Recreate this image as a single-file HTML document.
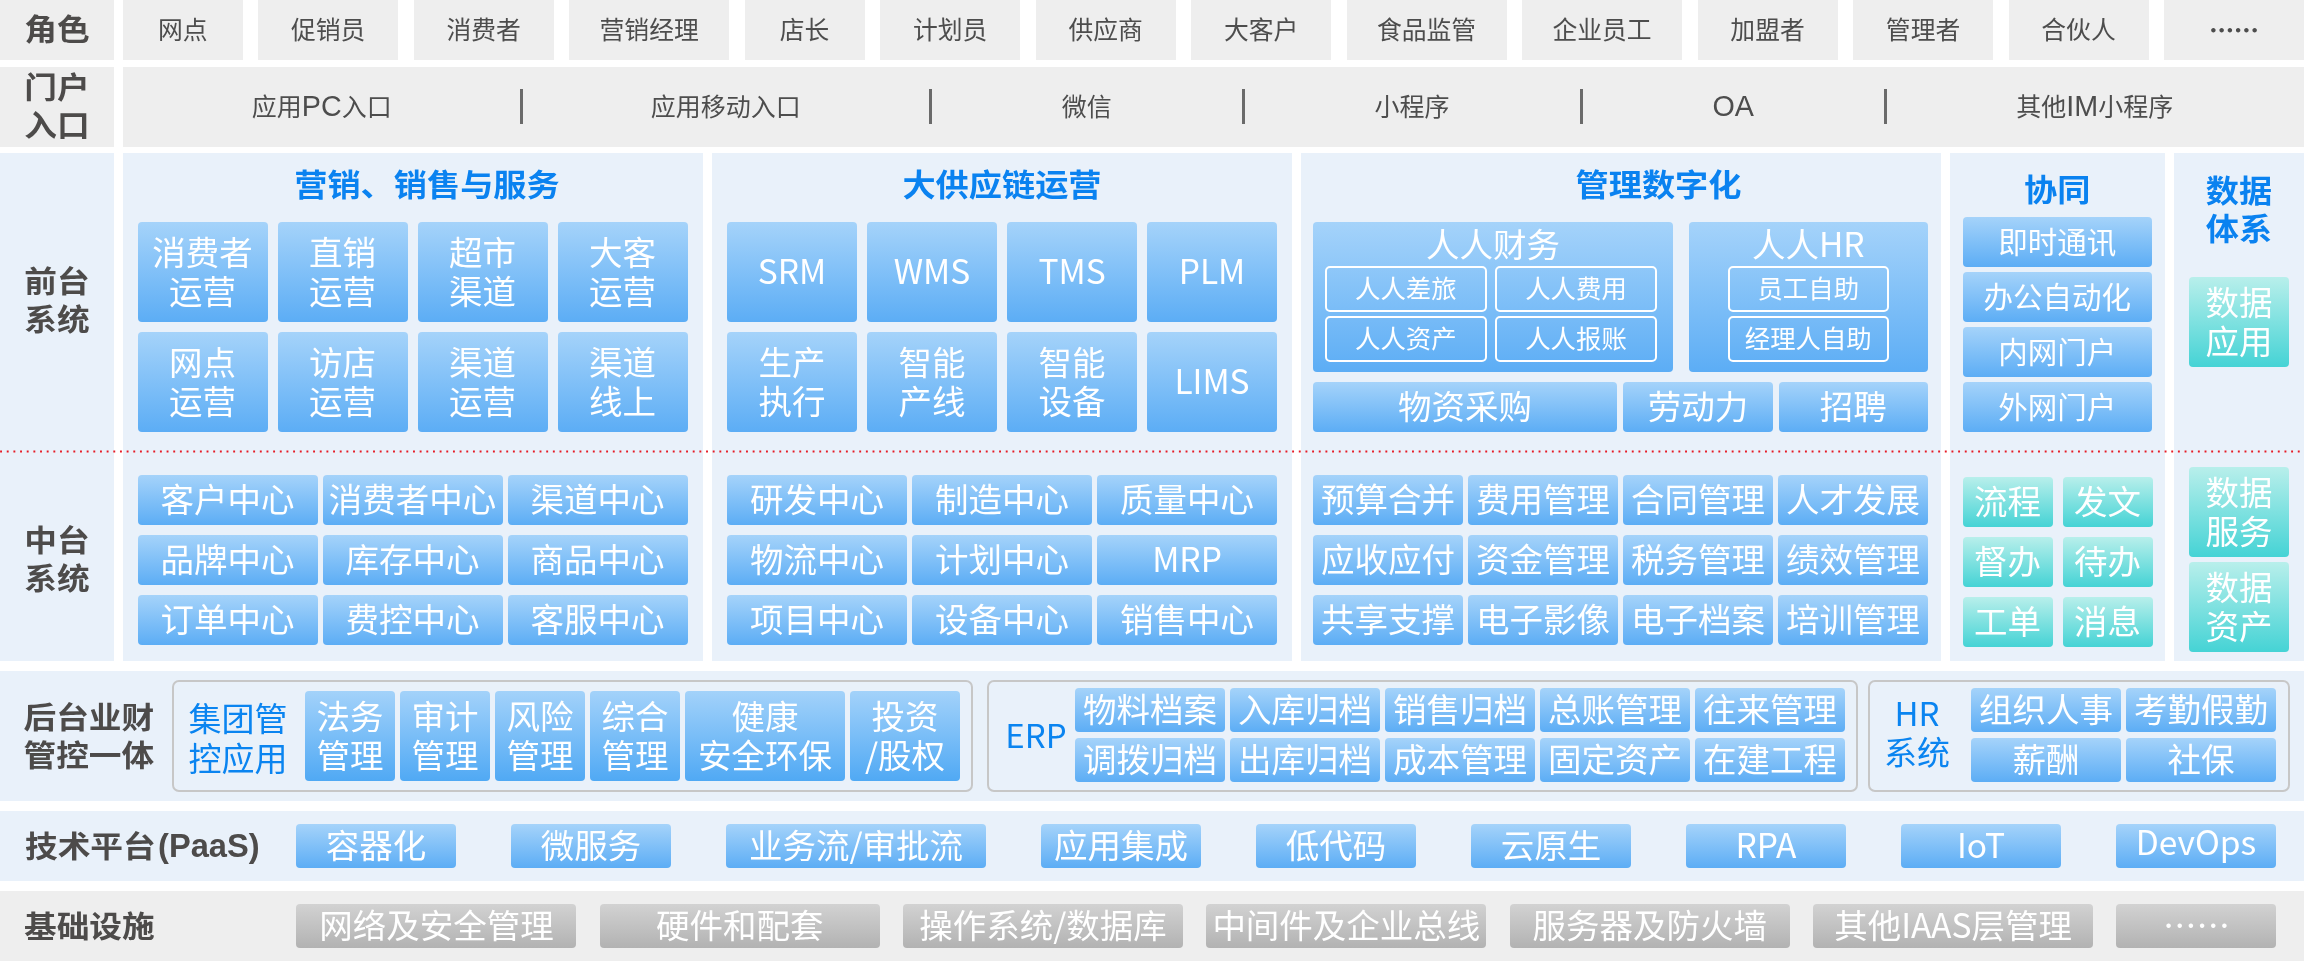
<!DOCTYPE html>
<html lang="zh-CN"><head><meta charset="utf-8"><title>架构</title><style>
*{margin:0;padding:0;box-sizing:border-box}
html,body{width:2304px;height:961px;overflow:hidden;background:#fff}
body{position:relative;will-change:transform;font-family:"Liberation Sans","Noto Sans CJK SC",sans-serif;}
.a{position:absolute}
.c{position:absolute;display:flex;align-items:center;justify-content:center;text-align:center;white-space:nowrap}
.g{background:#eeeeee}
.lb{background:#e9f1fa}
.lab{color:#4d4b4a;font-weight:700;font-size:32.7px;line-height:42.2px}
.lab>span,.tt>span{display:inline-block;transform:scaleY(0.92)}
.pa{display:inline-block;font-size:35.5px;line-height:30px;transform:scaleX(0.92);transform-origin:0 50%;margin-left:2px}
.labl{justify-content:flex-start;text-align:left}
.role{color:#4d4d4d;font-size:24.8px;line-height:30px}
.pt{font-size:25px;padding-top:0 !important;padding-bottom:0.8px}
.en{font-size:28.7px;line-height:30px}
.role{padding-top:1.5px}
.sep{position:absolute;width:3px;background:#6a6a6a;top:89px;height:35px}
.tt{color:#0a82f0;font-weight:700;font-size:33.2px;line-height:41.7px}
.b{color:#fff;font-weight:400;font-size:33.5px;line-height:38.8px;border-radius:4px;background:linear-gradient(180deg,#a5d3fa 0%,#5cadf5 100%);}
.t{color:#fff;font-weight:400;font-size:33.5px;line-height:38.8px;border-radius:4px;background:linear-gradient(180deg,#b8efeb 0%,#45d3d5 100%);}
.gy{color:#fff;font-weight:400;font-size:33.5px;line-height:38.8px;border-radius:4px;background:linear-gradient(180deg,#d2d2d2 0%,#b2b2b2 100%);}
.o{color:#fff;font-weight:400;font-size:25.4px;line-height:30px;border-radius:5px;border:2px solid #fff;}
.b,.t,.gy,.o{padding-bottom:4px}
.b,.t,.gy,.o,.bt{font-family:"Noto Sans CJK SC","Liberation Sans",sans-serif}
.fr{position:absolute;border:2px solid #c7c7c7;border-radius:7px}
.bt{color:#0a84f0;font-weight:400;font-size:33px;line-height:40px}
.dot{position:absolute;left:0;top:449.9px;width:2304px;height:3px}
</style></head><body>
<div class="c g lab" style="left:0px;top:0px;width:114px;height:60px;"><span>角色</span></div>
<div class="c g role" style="left:122.7px;top:0px;width:120px;height:60px;"><span>网点</span></div>
<div class="c g role" style="left:258.185px;top:0px;width:140px;height:60px;"><span>促销员</span></div>
<div class="c g role" style="left:413.67px;top:0px;width:140px;height:60px;"><span>消费者</span></div>
<div class="c g role" style="left:569.155px;top:0px;width:160px;height:60px;"><span>营销经理</span></div>
<div class="c g role" style="left:744.64px;top:0px;width:120px;height:60px;"><span>店长</span></div>
<div class="c g role" style="left:880.125px;top:0px;width:140px;height:60px;"><span>计划员</span></div>
<div class="c g role" style="left:1035.61px;top:0px;width:140px;height:60px;"><span>供应商</span></div>
<div class="c g role" style="left:1191.1px;top:0px;width:140px;height:60px;"><span>大客户</span></div>
<div class="c g role" style="left:1346.58px;top:0px;width:160px;height:60px;"><span>食品监管</span></div>
<div class="c g role" style="left:1522.07px;top:0px;width:160px;height:60px;"><span>企业员工</span></div>
<div class="c g role" style="left:1697.55px;top:0px;width:140px;height:60px;"><span>加盟者</span></div>
<div class="c g role" style="left:1853.04px;top:0px;width:140px;height:60px;"><span>管理者</span></div>
<div class="c g role" style="left:2008.52px;top:0px;width:140px;height:60px;"><span>合伙人</span></div>
<div class="c g role" style="left:2164.01px;top:0px;width:140px;height:60px;font-family:'Noto Sans CJK SC',sans-serif;font-weight:900;padding-bottom:4px;"><span>……</span></div>
<div class="c g lab" style="left:0px;top:67px;width:114px;height:80px;"><span>门户<br>入口</span></div>
<div class="a g" style="left:122.5px;top:67px;width:2181.5px;height:80px"></div>
<div class="c role pt" style="left:122.5px;top:67px;width:398.5px;height:80px;"><span>应用<span class="en">PC</span>入口</span></div>
<div class="c role pt" style="left:521px;top:67px;width:409.5px;height:80px;"><span>应用移动入口</span></div>
<div class="c role pt" style="left:930.5px;top:67px;width:312.5px;height:80px;"><span>微信</span></div>
<div class="c role pt" style="left:1243px;top:67px;width:338px;height:80px;"><span>小程序</span></div>
<div class="c role pt" style="left:1581px;top:67px;width:304.5px;height:80px;"><span><span class="en">OA</span></span></div>
<div class="c role pt" style="left:1885.5px;top:67px;width:418.5px;height:80px;"><span>其他<span class="en">IM</span>小程序</span></div>
<div class="sep" style="left:519.5px"></div>
<div class="sep" style="left:929px"></div>
<div class="sep" style="left:1241.5px"></div>
<div class="sep" style="left:1579.5px"></div>
<div class="sep" style="left:1884px"></div>
<div class="a lb" style="left:0;top:153px;width:114px;height:508px"></div>
<div class="c lab" style="left:0px;top:251px;width:114px;height:100px;"><span>前台<br>系统</span></div>
<div class="c lab" style="left:0px;top:510px;width:114px;height:100px;"><span>中台<br>系统</span></div>
<div class="a lb" style="left:123px;top:153px;width:579.5px;height:508px"></div>
<div class="a lb" style="left:712px;top:153px;width:580px;height:508px"></div>
<div class="a lb" style="left:1301px;top:153px;width:640px;height:508px"></div>
<div class="a lb" style="left:1950px;top:153px;width:214.5px;height:508px"></div>
<div class="a lb" style="left:2174px;top:153px;width:130px;height:508px"></div>
<div class="c tt" style="left:295px;top:167px;width:264px;height:38px;"><span>营销、销售与服务</span></div>
<div class="c tt" style="left:712px;top:167px;width:580px;height:38px;"><span>大供应链运营</span></div>
<div class="c tt" style="left:1376px;top:167px;width:565px;height:38px;"><span>管理数字化</span></div>
<div class="c tt" style="left:1950px;top:172px;width:214.5px;height:38px;"><span>协同</span></div>
<div class="c tt" style="left:2174px;top:172.5px;width:130px;height:76px;"><span>数据<br>体系</span></div>
<div class="c b" style="left:137.5px;top:222px;width:130px;height:100px;padding-top:2px;"><span>消费者<br>运营</span></div>
<div class="c b" style="left:277.5px;top:222px;width:130px;height:100px;padding-top:2px;"><span>直销<br>运营</span></div>
<div class="c b" style="left:417.5px;top:222px;width:130px;height:100px;padding-top:2px;"><span>超市<br>渠道</span></div>
<div class="c b" style="left:557.5px;top:222px;width:130px;height:100px;padding-top:2px;"><span>大客<br>运营</span></div>
<div class="c b" style="left:137.5px;top:332px;width:130px;height:100px;padding-top:2px;"><span>网点<br>运营</span></div>
<div class="c b" style="left:277.5px;top:332px;width:130px;height:100px;padding-top:2px;"><span>访店<br>运营</span></div>
<div class="c b" style="left:417.5px;top:332px;width:130px;height:100px;padding-top:2px;"><span>渠道<br>运营</span></div>
<div class="c b" style="left:557.5px;top:332px;width:130px;height:100px;padding-top:2px;"><span>渠道<br>线上</span></div>
<div class="c b" style="left:727px;top:222px;width:130px;height:100px;"><span>SRM</span></div>
<div class="c b" style="left:867px;top:222px;width:130px;height:100px;"><span>WMS</span></div>
<div class="c b" style="left:1007px;top:222px;width:130px;height:100px;"><span>TMS</span></div>
<div class="c b" style="left:1147px;top:222px;width:130px;height:100px;"><span>PLM</span></div>
<div class="c b" style="left:727px;top:332px;width:130px;height:100px;padding-top:2px;"><span>生产<br>执行</span></div>
<div class="c b" style="left:867px;top:332px;width:130px;height:100px;padding-top:2px;"><span>智能<br>产线</span></div>
<div class="c b" style="left:1007px;top:332px;width:130px;height:100px;padding-top:2px;"><span>智能<br>设备</span></div>
<div class="c b" style="left:1147px;top:332px;width:130px;height:100px;"><span>LIMS</span></div>
<div class="a b" style="left:1313px;top:222px;width:360px;height:150px"></div>
<div class="a b" style="left:1688.5px;top:222px;width:239.5px;height:150px"></div>
<div class="c b" style="left:1313px;top:226px;width:360px;height:38px;background:none"><span>人人财务</span></div>
<div class="c b" style="left:1688.5px;top:226px;width:239.5px;height:38px;background:none"><span>人人HR</span></div>
<div class="c o" style="left:1324.7px;top:266px;width:162.3px;height:46px;"><span>人人差旅</span></div>
<div class="c o" style="left:1495px;top:266px;width:162px;height:46px;"><span>人人费用</span></div>
<div class="c o" style="left:1324.7px;top:316px;width:162.3px;height:46px;"><span>人人资产</span></div>
<div class="c o" style="left:1495px;top:316px;width:162px;height:46px;"><span>人人报账</span></div>
<div class="c o" style="left:1727.5px;top:266px;width:161.5px;height:46px;"><span>员工自助</span></div>
<div class="c o" style="left:1727.5px;top:316px;width:161.5px;height:46px;"><span>经理人自助</span></div>
<div class="c b" style="left:1313px;top:382px;width:304px;height:50px;"><span>物资采购</span></div>
<div class="c b" style="left:1623px;top:382px;width:150px;height:50px;"><span>劳动力</span></div>
<div class="c b" style="left:1778.5px;top:382px;width:149.5px;height:50px;"><span>招聘</span></div>
<div class="c b" style="left:1962.5px;top:217px;width:189.5px;height:50px;font-size:29.5px"><span>即时通讯</span></div>
<div class="c b" style="left:1962.5px;top:272px;width:189.5px;height:50px;font-size:29.5px"><span>办公自动化</span></div>
<div class="c b" style="left:1962.5px;top:327px;width:189.5px;height:50px;font-size:29.5px"><span>内网门户</span></div>
<div class="c b" style="left:1962.5px;top:382px;width:189.5px;height:50px;font-size:29.5px"><span>外网门户</span></div>
<div class="c t" style="left:2189px;top:277px;width:100px;height:90px;padding-top:2px;"><span>数据<br>应用</span></div>
<div class="c t" style="left:2189px;top:467px;width:100px;height:90px;padding-top:2px;"><span>数据<br>服务</span></div>
<div class="c t" style="left:2189px;top:562.3px;width:100px;height:89.7px;padding-top:2px;"><span>数据<br>资产</span></div>
<div class="c b" style="left:137.5px;top:475px;width:180px;height:50px;"><span>客户中心</span></div>
<div class="c b" style="left:727px;top:475px;width:180px;height:50px;"><span>研发中心</span></div>
<div class="c b" style="left:322.5px;top:475px;width:180px;height:50px;"><span>消费者中心</span></div>
<div class="c b" style="left:912px;top:475px;width:180px;height:50px;"><span>制造中心</span></div>
<div class="c b" style="left:507.5px;top:475px;width:180px;height:50px;"><span>渠道中心</span></div>
<div class="c b" style="left:1097px;top:475px;width:180px;height:50px;"><span>质量中心</span></div>
<div class="c b" style="left:1313px;top:475px;width:150px;height:50px;"><span>预算合并</span></div>
<div class="c b" style="left:1468px;top:475px;width:150px;height:50px;"><span>费用管理</span></div>
<div class="c b" style="left:1623px;top:475px;width:150px;height:50px;"><span>合同管理</span></div>
<div class="c b" style="left:1778px;top:475px;width:150px;height:50px;"><span>人才发展</span></div>
<div class="c b" style="left:137.5px;top:535px;width:180px;height:50px;"><span>品牌中心</span></div>
<div class="c b" style="left:727px;top:535px;width:180px;height:50px;"><span>物流中心</span></div>
<div class="c b" style="left:322.5px;top:535px;width:180px;height:50px;"><span>库存中心</span></div>
<div class="c b" style="left:912px;top:535px;width:180px;height:50px;"><span>计划中心</span></div>
<div class="c b" style="left:507.5px;top:535px;width:180px;height:50px;"><span>商品中心</span></div>
<div class="c b" style="left:1097px;top:535px;width:180px;height:50px;"><span>MRP</span></div>
<div class="c b" style="left:1313px;top:535px;width:150px;height:50px;"><span>应收应付</span></div>
<div class="c b" style="left:1468px;top:535px;width:150px;height:50px;"><span>资金管理</span></div>
<div class="c b" style="left:1623px;top:535px;width:150px;height:50px;"><span>税务管理</span></div>
<div class="c b" style="left:1778px;top:535px;width:150px;height:50px;"><span>绩效管理</span></div>
<div class="c b" style="left:137.5px;top:595px;width:180px;height:50px;"><span>订单中心</span></div>
<div class="c b" style="left:727px;top:595px;width:180px;height:50px;"><span>项目中心</span></div>
<div class="c b" style="left:322.5px;top:595px;width:180px;height:50px;"><span>费控中心</span></div>
<div class="c b" style="left:912px;top:595px;width:180px;height:50px;"><span>设备中心</span></div>
<div class="c b" style="left:507.5px;top:595px;width:180px;height:50px;"><span>客服中心</span></div>
<div class="c b" style="left:1097px;top:595px;width:180px;height:50px;"><span>销售中心</span></div>
<div class="c b" style="left:1313px;top:595px;width:150px;height:50px;"><span>共享支撑</span></div>
<div class="c b" style="left:1468px;top:595px;width:150px;height:50px;"><span>电子影像</span></div>
<div class="c b" style="left:1623px;top:595px;width:150px;height:50px;"><span>电子档案</span></div>
<div class="c b" style="left:1778px;top:595px;width:150px;height:50px;"><span>培训管理</span></div>
<div class="c t" style="left:1962.5px;top:477px;width:90px;height:50px;"><span>流程</span></div>
<div class="c t" style="left:2062.5px;top:477px;width:90px;height:50px;"><span>发文</span></div>
<div class="c t" style="left:1962.5px;top:537px;width:90px;height:50px;"><span>督办</span></div>
<div class="c t" style="left:2062.5px;top:537px;width:90px;height:50px;"><span>待办</span></div>
<div class="c t" style="left:1962.5px;top:597px;width:90px;height:50px;"><span>工单</span></div>
<div class="c t" style="left:2062.5px;top:597px;width:90px;height:50px;"><span>消息</span></div>
<svg class="dot" viewBox="0 0 2304 3"><line x1="0.1" y1="1.5" x2="2304" y2="1.5" stroke="#e61a24" stroke-width="2" stroke-dasharray="1.9 4.76" stroke-linecap="butt"/></svg>
<div class="a lb" style="left:0;top:671px;width:2304px;height:130px"></div>
<div class="c lab labl" style="left:23.5px;top:698px;width:146.5px;height:78px;"><span>后台业财<br>管控一体</span></div>
<div class="fr" style="left:172px;top:680px;width:801px;height:111.5px"></div>
<div class="fr" style="left:987px;top:680px;width:871px;height:111.5px"></div>
<div class="fr" style="left:1868px;top:680px;width:421.5px;height:111.5px"></div>
<div class="c bt" style="left:180px;top:697.2px;width:116px;height:80px;"><span>集团管<br>控应用</span></div>
<div class="c b" style="left:305px;top:691px;width:90px;height:90px;background:linear-gradient(180deg,#a3d2fa 0%,#50a9f4 100%);padding-top:2px;"><span>法务<br>管理</span></div>
<div class="c b" style="left:400px;top:691px;width:90px;height:90px;background:linear-gradient(180deg,#a3d2fa 0%,#50a9f4 100%);padding-top:2px;"><span>审计<br>管理</span></div>
<div class="c b" style="left:495px;top:691px;width:90px;height:90px;background:linear-gradient(180deg,#a3d2fa 0%,#50a9f4 100%);padding-top:2px;"><span>风险<br>管理</span></div>
<div class="c b" style="left:590px;top:691px;width:90px;height:90px;background:linear-gradient(180deg,#a3d2fa 0%,#50a9f4 100%);padding-top:2px;"><span>综合<br>管理</span></div>
<div class="c b" style="left:685px;top:691px;width:160px;height:90px;background:linear-gradient(180deg,#a3d2fa 0%,#50a9f4 100%);padding-top:2px;"><span>健康<br>安全环保</span></div>
<div class="c b" style="left:850px;top:691px;width:110px;height:90px;background:linear-gradient(180deg,#a3d2fa 0%,#50a9f4 100%);padding-top:2px;"><span>投资<br>/股权</span></div>
<div class="c bt" style="left:997px;top:713.5px;width:78px;height:40px;"><span>ERP</span></div>
<div class="c b" style="left:1075px;top:688px;width:150px;height:44px;"><span>物料档案</span></div>
<div class="c b" style="left:1230px;top:688px;width:150px;height:44px;"><span>入库归档</span></div>
<div class="c b" style="left:1385px;top:688px;width:150px;height:44px;"><span>销售归档</span></div>
<div class="c b" style="left:1540px;top:688px;width:150px;height:44px;"><span>总账管理</span></div>
<div class="c b" style="left:1695px;top:688px;width:150px;height:44px;"><span>往来管理</span></div>
<div class="c b" style="left:1075px;top:738px;width:150px;height:44px;"><span>调拨归档</span></div>
<div class="c b" style="left:1230px;top:738px;width:150px;height:44px;"><span>出库归档</span></div>
<div class="c b" style="left:1385px;top:738px;width:150px;height:44px;"><span>成本管理</span></div>
<div class="c b" style="left:1540px;top:738px;width:150px;height:44px;"><span>固定资产</span></div>
<div class="c b" style="left:1695px;top:738px;width:150px;height:44px;"><span>在建工程</span></div>
<div class="c bt" style="left:1872px;top:692.3px;width:90px;height:80px;line-height:39.2px"><span>HR<br>系统</span></div>
<div class="c b" style="left:1971px;top:688px;width:150px;height:44px;"><span>组织人事</span></div>
<div class="c b" style="left:2126px;top:688px;width:150px;height:44px;"><span>考勤假勤</span></div>
<div class="c b" style="left:1971px;top:738px;width:150px;height:44px;"><span>薪酬</span></div>
<div class="c b" style="left:2126px;top:738px;width:150px;height:44px;"><span>社保</span></div>
<div class="a lb" style="left:0;top:811px;width:2304px;height:70px"></div>
<div class="c lab labl" style="left:25px;top:827px;width:265px;height:40px;"><span>技术平台<span class="pa">(PaaS)</span></span></div>
<div class="c b" style="left:296px;top:824px;width:160px;height:44px;"><span>容器化</span></div>
<div class="c b" style="left:511px;top:824px;width:160px;height:44px;"><span>微服务</span></div>
<div class="c b" style="left:726px;top:824px;width:260px;height:44px;"><span>业务流/审批流</span></div>
<div class="c b" style="left:1041px;top:824px;width:160px;height:44px;"><span>应用集成</span></div>
<div class="c b" style="left:1256px;top:824px;width:160px;height:44px;"><span>低代码</span></div>
<div class="c b" style="left:1471px;top:824px;width:160px;height:44px;"><span>云原生</span></div>
<div class="c b" style="left:1686px;top:824px;width:160px;height:44px;"><span>RPA</span></div>
<div class="c b" style="left:1901px;top:824px;width:160px;height:44px;"><span>IoT</span></div>
<div class="c b" style="left:2116px;top:824px;width:160px;height:44px;padding-bottom:10px;"><span>DevOps</span></div>
<div class="a g" style="left:0;top:891px;width:2304px;height:70px"></div>
<div class="c lab labl" style="left:24px;top:907px;width:266px;height:40px;"><span>基础设施</span></div>
<div class="c gy" style="left:296.4px;top:904px;width:280px;height:43.8px;"><span>网络及安全管理</span></div>
<div class="c gy" style="left:599.73px;top:904px;width:280px;height:43.8px;"><span>硬件和配套</span></div>
<div class="c gy" style="left:903.06px;top:904px;width:280px;height:43.8px;"><span>操作系统/数据库</span></div>
<div class="c gy" style="left:1206.39px;top:904px;width:280px;height:43.8px;"><span>中间件及企业总线</span></div>
<div class="c gy" style="left:1509.72px;top:904px;width:280px;height:43.8px;"><span>服务器及防火墙</span></div>
<div class="c gy" style="left:1813.05px;top:904px;width:280px;height:43.8px;"><span>其他IAAS层管理</span></div>
<div class="c gy" style="left:2116.4px;top:904px;width:160px;height:43.8px;"><span>……</span></div>
</body></html>
